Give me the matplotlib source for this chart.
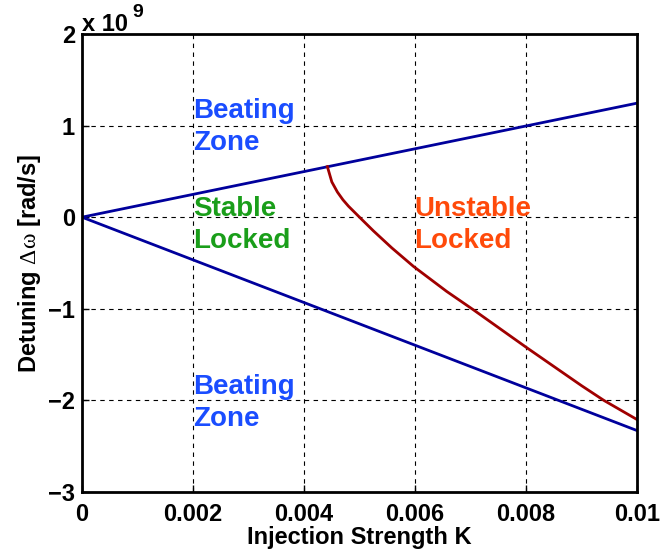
import numpy as np
import matplotlib
matplotlib.use("Agg")
import matplotlib.pyplot as plt
from matplotlib.ticker import FuncFormatter

# injection strength and boundaries of the locking region
k_edge = [0.0, 0.01]
beat_upper = [0.0, 1.245e9]
beat_lower = [0.0, -2.33e9]

k_unstable = [0.00442, 0.00450, 0.00460, 0.00470, 0.00480, 0.00501,
              0.00525, 0.00558, 0.00597, 0.00657, 0.00705, 0.0080,
              0.0085, 0.0090, 0.0094, 0.0100]
dw_unstable = [0.552e9, 0.385e9, 0.275e9, 0.19e9, 0.12e9, -0.007e9,
               -0.15e9, -0.335e9, -0.537e9, -0.811e9, -1.011e9, -1.42e9,
               -1.63e9, -1.84e9, -2.00e9, -2.21e9]

xticks = [0, 0.002, 0.004, 0.006, 0.008, 0.01]
xticklabels = ["0", "0.002", "0.004", "0.006", "0.008", "0.01"]
yticks = [-3e9, -2e9, -1e9, 0, 1e9, 2e9]

plt.rcParams["font.family"] = ["Liberation Sans", "DejaVu Sans"]
plt.rcParams["mathtext.fontset"] = "custom"
plt.rcParams["mathtext.rm"] = "Liberation Serif"
plt.rcParams["mathtext.it"] = "Liberation Serif"

fig = plt.figure(figsize=(6.63, 5.59), dpi=100)
ax = fig.add_axes([0.1237, 0.1199, 0.8373, 0.8193])

ax.plot(k_edge, beat_upper, color="#00009c", lw=2)
ax.plot(k_edge, beat_lower, color="#00009c", lw=2)
ax.plot(k_unstable, dw_unstable, color="#a00000", lw=2)

ax.set_xlim(0, 0.01)
ax.set_ylim(-3e9, 2e9)
ax.set_xticks(xticks)
ax.set_xticklabels(xticklabels)
ax.set_yticks(yticks)
ax.yaxis.set_major_formatter(FuncFormatter(lambda v, p: "%d" % round(v / 1e9) if v >= 0 else "\u2212%d" % round(-v / 1e9)))
ax.grid(True, color="k", ls=(0, (4, 4)), lw=0.8)
ax.tick_params(direction="in", length=5, width=1, labelsize=17)
ax.tick_params(axis="x", pad=8)
ax.tick_params(axis="y", pad=5)
for lab in ax.get_xticklabels() + ax.get_yticklabels():
    lab.set_fontweight("bold")
for s in ax.spines.values():
    s.set_linewidth(2)

# offset text "x 10^9"
ax.text(0.0, 1.007, "x 10", transform=ax.transAxes, fontsize=17,
        fontweight="bold", ha="left", va="baseline")
ax.text(0.09, 1.037, "9", transform=ax.transAxes, fontsize=14,
        fontweight="bold", ha="left", va="baseline")

ax.set_xlabel("Injection Strength K", fontsize=17, fontweight="bold", labelpad=0)
ax.set_ylabel("Detuning $\\Delta\\omega$ [rad/s]", fontsize=17, fontweight="bold", labelpad=4)

tkw = dict(fontsize=20, fontweight="bold", ha="left", va="top", linespacing=1.3)
ax.text(0.002, 1.30e9, "Beating\nZone", color="#1a4dff", **tkw)
ax.text(0.002, 0.23e9, "Stable\nLocked", color="#1a9e1a", **tkw)
ax.text(0.00598, 0.23e9, "Unstable\nLocked", color="#ff4a0a", **tkw)
ax.text(0.002, -1.71e9, "Beating\nZone", color="#1a4dff", **tkw)

fig.savefig("out.png", dpi=100)
